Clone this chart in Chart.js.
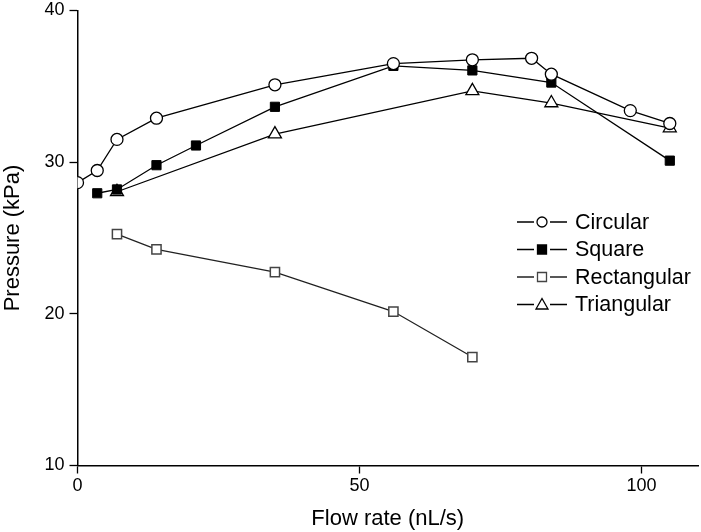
<!DOCTYPE html>
<html>
<head>
<meta charset="utf-8">
<script src="https://cdn.jsdelivr.net/npm/chart.js"></script>
<style>
  body { margin: 0; background: #fff; }
  #wrap { width: 701px; height: 532px; }
</style>
</head>
<body>
<div id="wrap"><canvas id="chart" width="701" height="532"></canvas></div>
<script>
// flow rate (nL/s) and pressure (kPa)
const circularFlow = [0, 3.5, 7, 14, 35, 56, 70, 80.5, 84, 98, 105];
const circularPressure = [28.65, 29.45, 31.5, 32.9, 35.1, 36.5, 36.75, 36.85, 35.8, 33.4, 32.55];

const squareFlow = [3.5, 7, 14, 21, 35, 56, 70, 84, 105];
const squarePressure = [27.95, 28.2, 29.8, 31.1, 33.65, 36.35, 36.05, 35.25, 30.1];

const rectFlow = [7, 14, 35, 56, 70];
const rectPressure = [25.25, 24.25, 22.75, 20.15, 17.15];

const triFlow = [7, 35, 70, 84, 105];
const triPressure = [28.05, 31.85, 34.7, 33.9, 32.25];

const seriesNames = ['Circular', 'Square', 'Rectangular', 'Triangular'];
const xTicks = [0, 50, 100];
const yTicks = [10, 20, 30, 40];

const toPoints = (xs, ys) => xs.map((x, i) => ({ x: x, y: ys[i] }));

const FONT = 'Liberation Sans, Arial, sans-serif';

// legend with the line running through each marker, like the original
const lineLegend = {
  id: 'lineLegend',
  afterDraw(chart) {
    const ctx = chart.ctx;
    const x0 = 517, x1 = 567, xm = 542, top = 222, gap = 27.5;
    chart.data.datasets.forEach((ds, i) => {
      const y = top + i * gap;
      ctx.save();
      ctx.strokeStyle = ds.borderColor;
      ctx.lineWidth = 1.3;
      ctx.beginPath();
      ctx.moveTo(x0, y); ctx.lineTo(xm - 8, y);
      ctx.moveTo(xm + 8, y); ctx.lineTo(x1, y);
      ctx.stroke();

      ctx.fillStyle = ds.pointBackgroundColor;
      ctx.strokeStyle = ds.pointBorderColor;
      ctx.beginPath();
      if (ds.pointStyle === 'circle') {
        ctx.arc(xm, y, 5, 0, Math.PI * 2);
      } else if (ds.pointStyle === 'rect') {
        ctx.rect(xm - 4.5, y - 4.5, 9, 9);
      } else {
        ctx.moveTo(xm, y - 6);
        ctx.lineTo(xm + 6, y + 4.5);
        ctx.lineTo(xm - 6, y + 4.5);
        ctx.closePath();
      }
      ctx.fill();
      ctx.stroke();

      ctx.fillStyle = '#000';
      ctx.font = '21.5px ' + FONT;
      ctx.textBaseline = 'middle';
      ctx.textAlign = 'left';
      ctx.fillText(ds.label, 575, y + 1);
      ctx.restore();
    });
  }
};

const ctx = document.getElementById('chart').getContext('2d');
new Chart(ctx, {
  type: 'scatter',
  data: {
    datasets: [
      {
        label: seriesNames[0],
        data: toPoints(circularFlow, circularPressure),
        showLine: true,
        borderColor: '#000',
        borderWidth: 1.3,
        pointStyle: 'circle',
        pointRadius: 6,
        pointBackgroundColor: '#fff',
        pointBorderColor: '#000',
        pointBorderWidth: 1.3
      },
      {
        label: seriesNames[1],
        data: toPoints(squareFlow, squarePressure),
        showLine: true,
        borderColor: '#000',
        borderWidth: 1.3,
        pointStyle: 'rect',
        pointRadius: 6.5,
        pointBackgroundColor: '#000',
        pointBorderColor: '#000',
        pointBorderWidth: 1
      },
      {
        label: seriesNames[2],
        data: toPoints(rectFlow, rectPressure),
        showLine: true,
        borderColor: '#222',
        borderWidth: 1.3,
        pointStyle: 'rect',
        pointRadius: 6.5,
        pointBackgroundColor: '#fff',
        pointBorderColor: '#444',
        pointBorderWidth: 1.5
      },
      {
        label: seriesNames[3],
        data: toPoints(triFlow, triPressure),
        showLine: true,
        borderColor: '#000',
        borderWidth: 1.3,
        pointStyle: 'triangle',
        pointRadius: 7.5,
        pointBackgroundColor: '#fff',
        pointBorderColor: '#000',
        pointBorderWidth: 1.3
      }
    ]
  },
  options: {
    responsive: false,
    devicePixelRatio: 1,
    animation: false,
    layout: { autoPadding: false, padding: { top: 10.5, right: 3, left: 0, bottom: 0 } },
    plugins: {
      legend: { display: false },
      tooltip: { enabled: false }
    },
    scales: {
      x: {
        type: 'linear',
        min: 0,
        max: 110,
        afterFit: (scale) => {
          scale.height = 66.5;
          scale.paddingLeft = 0;
          scale.paddingRight = 0;
        },
        afterBuildTicks: (scale) => { scale.ticks = xTicks.map(v => ({ value: v })); },
        ticks: {
          color: '#000',
          font: { family: FONT, size: 18 },
          padding: 2,
          maxRotation: 0
        },
        grid: {
          drawOnChartArea: false,
          tickLength: 8,
          tickWidth: 1.3,
          color: '#000'
        },
        border: { display: true, color: '#000', width: 1.5 },
        title: {
          display: true,
          text: 'Flow rate (nL/s)',
          color: '#000',
          font: { family: FONT, size: 22 },
          padding: 0
        }
      },
      y: {
        type: 'linear',
        min: 10,
        max: 40,
        afterFit: (scale) => {
          scale.width = 77.5;
          scale.paddingTop = 0;
          scale.paddingBottom = 0;
        },
        afterBuildTicks: (scale) => { scale.ticks = yTicks.map(v => ({ value: v })); },
        ticks: {
          color: '#000',
          font: { family: FONT, size: 18 },
          padding: 5
        },
        grid: {
          drawOnChartArea: false,
          tickLength: 8,
          tickWidth: 1.3,
          color: '#000'
        },
        border: { display: true, color: '#000', width: 1.5 },
        title: {
          display: true,
          text: 'Pressure (kPa)',
          color: '#000',
          font: { family: FONT, size: 22 },
          padding: 0
        }
      }
    }
  },
  plugins: [lineLegend]
});
</script>
</body>
</html>
